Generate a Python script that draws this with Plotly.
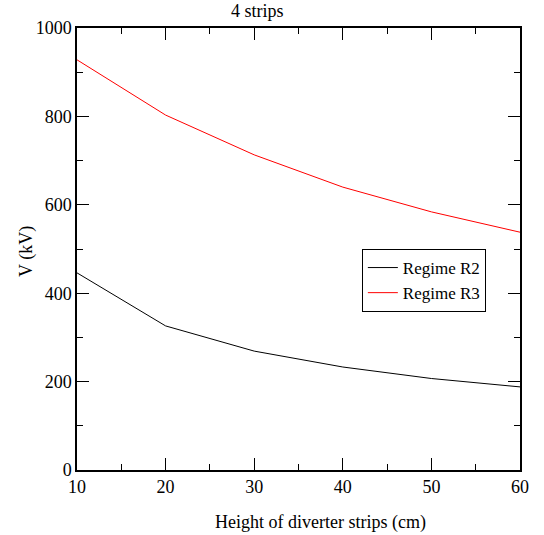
import plotly.graph_objects as go

heights = [10, 20, 30, 40, 50, 60]
regime_r2 = [446, 326, 269, 233, 207, 188]
regime_r3 = [928, 803, 713, 640, 584, 538]

font_family = "Liberation Serif, Times New Roman, serif"

fig = go.Figure()
fig.add_trace(go.Scatter(x=heights, y=regime_r2, mode="lines", name="Regime R2",
                         line=dict(color="black", width=1)))
fig.add_trace(go.Scatter(x=heights, y=regime_r3, mode="lines", name="Regime R3",
                         line=dict(color="red", width=1)))

axis_common = dict(
    showline=True, linecolor="black", linewidth=1.5, mirror="ticks",
    ticks="inside", ticklen=12, tickwidth=1, tickcolor="black",
    showgrid=False, zeroline=False,
    tickfont=dict(family=font_family, size=18, color="black"),
)

fig.update_xaxes(range=[10, 60], tick0=10, dtick=10,
                 minor=dict(dtick=5, ticks="inside", ticklen=6, tickcolor="black"),
                 **axis_common)
fig.update_yaxes(range=[0, 1000], tick0=0, dtick=200,
                 minor=dict(dtick=100, ticks="inside", ticklen=6, tickcolor="black"),
                 **axis_common)

L, T, PW, PH = 77, 28, 443, 442

# x-axis title
fig.add_annotation(text="Height of diverter strips (cm)", xref="paper", yref="paper",
                   x=(320.5 - L) / PW, y=0, xanchor="center", yanchor="middle",
                   yshift=-(522 - (T + PH)), showarrow=False,
                   font=dict(family=font_family, size=18, color="black"))
# y-axis title
fig.add_annotation(text="V (kV)", xref="paper", yref="paper", textangle=-90,
                   x=0, y=(T + PH - 252) / PH, xanchor="center", yanchor="middle",
                   xshift=26 - L, showarrow=False,
                   font=dict(family=font_family, size=18, color="black"))
# title
fig.add_annotation(text="4 strips", xref="paper", yref="paper",
                   x=(257.5 - L) / PW, y=1.0, xanchor="center", yanchor="middle",
                   yshift=T - 11, showarrow=False,
                   font=dict(family=font_family, size=18, color="black"))

fig.update_layout(
    width=544, height=535,
    margin=dict(l=L, r=544 - L - PW, t=T, b=535 - T - PH),
    paper_bgcolor="white", plot_bgcolor="white",
    showlegend=True,
    legend=dict(x=0.643, y=0.5, xanchor="left", yanchor="top",
                bordercolor="black", borderwidth=1, bgcolor="white",
                font=dict(family=font_family, size=17, color="black"),
                tracegroupgap=0),
)

fig.write_html("out.html", config={"displayModeBar": False},
               post_script="document.body.style.margin='0';")
